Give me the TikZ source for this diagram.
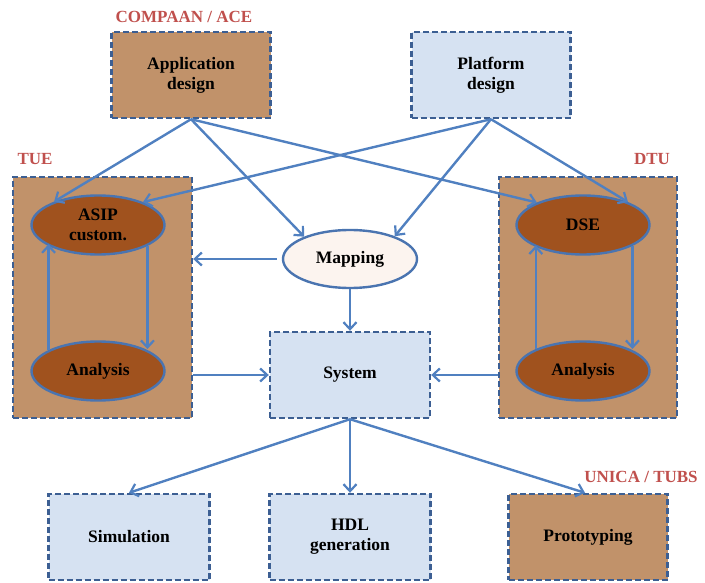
\documentclass[tikz,border=0pt]{standalone}
\usepackage{fontspec}
\setmainfont{Liberation Serif}
\usetikzlibrary{shapes.geometric,arrows.meta}
\definecolor{tanfill}{HTML}{C1926A}
\definecolor{darkoval}{HTML}{A0521E}
\definecolor{paleblue}{HTML}{D6E2F2}
\definecolor{dashblue}{HTML}{3C5F93}
\definecolor{arrowblue}{HTML}{5080C0}
\definecolor{ovalline}{HTML}{4A74B0}
\definecolor{teamred}{HTML}{C0504D}
\definecolor{mapfill}{HTML}{FCF4EF}
\tikzset{
  box/.style={rectangle, draw=dashblue, line width=2.4pt,
    dash pattern=on 6pt off 3pt, minimum width=159pt, minimum height=86pt,
    align=center, font=\fontsize{17.5}{20}\selectfont\bfseries, inner sep=0pt},
  brownbox/.style={box, fill=tanfill},
  bluebox/.style={box, fill=paleblue},
  oval/.style={ellipse, draw=ovalline, line width=2.4pt, fill=darkoval,
    minimum width=133pt, minimum height=59pt, inner sep=0pt,
    align=center, font=\fontsize{17.5}{20}\selectfont\bfseries},
  team/.style={text=teamred, font=\fontsize{17}{20}\selectfont\bfseries},
  arr/.style={draw=arrowblue, line width=2.4pt,
    -{Straight Barb[length=7pt,width=13pt,line width=2.2pt]}},
}
\begin{document}
\begin{tikzpicture}[x=1pt,y=-1pt]
\useasboundingbox (0,0) rectangle (705,583);

% top row
\node[brownbox] (app) at (191,75) {Application\\design};
\node[bluebox] (plat) at (491,75) {Platform\\design};
\node[team] (compaan) at (184,17) {COMPAAN / ACE};

% group frames
\node[brownbox, minimum width=179pt, minimum height=241pt] (tue) at (102.5,297.5) {};
\node[brownbox, minimum width=178pt, minimum height=241pt] (dtu) at (588,297.5) {};
\node[team] (tuelbl) at (35,159) {TUE};
\node[team] (dtulbl) at (652,159) {DTU};

% ovals inside the frames
\node[oval] (asip) at (98,225) {ASIP\\custom.};
\node[oval] (tuean) at (98,371) {Analysis};
\node[oval] (dse) at (583,225) {DSE};
\node[oval] (dtuan) at (583,371) {Analysis};

% centre column
\node[oval, fill=mapfill, minimum width=134pt, minimum height=58pt] (map) at (350,259) {Mapping};
\node[bluebox, minimum width=160pt] (sys) at (350,375) {System};

% bottom row
\node[bluebox, minimum width=161pt] (sim) at (129,537) {Simulation};
\node[bluebox, minimum width=161pt] (hdl) at (350,537) {HDL\\generation};
\node[brownbox] (proto) at (588,537) {Prototyping};
\node[team] (unica) at (641,477) {UNICA / TUBS};

% design inputs
\draw[arr] (app.south) -- (asip.152);
\draw[arr] (app.south) -- (map.154);
\draw[arr] (app.south) -- (dse.154);
\draw[arr] (plat.south) -- (asip.27);
\draw[arr] (plat.south) -- (map.27);
\draw[arr] (plat.south) -- (dse.27);

% mapping and system
\draw[arr] (map.west) ++(-5,0) coordinate (mapw) -- (mapw -| tue.east);
\draw[arr] (map.south) -- (sys.north);
\draw[arr] (tue.east |- sys.west) -- (sys.west);
\draw[arr] (dtu.west |- sys.east) -- (sys.east);

% exploration loops
\draw[arr] (tuean.157) -- (tuean.157 |- asip.200);
\draw[arr] (asip.337) -- (asip.337 |- tuean.25);
\draw[arr] (dtuan.155) -- (dtuan.155 |- dse.202);
\draw[arr] (dse.337) -- (dse.337 |- dtuan.25);

% outputs
\draw[arr] (sys.south) -- (sim.north);
\draw[arr] (sys.south) -- (hdl.north);
\draw[arr] (sys.south) -- ([xshift=-3pt]proto.north);
\end{tikzpicture}
\end{document}
